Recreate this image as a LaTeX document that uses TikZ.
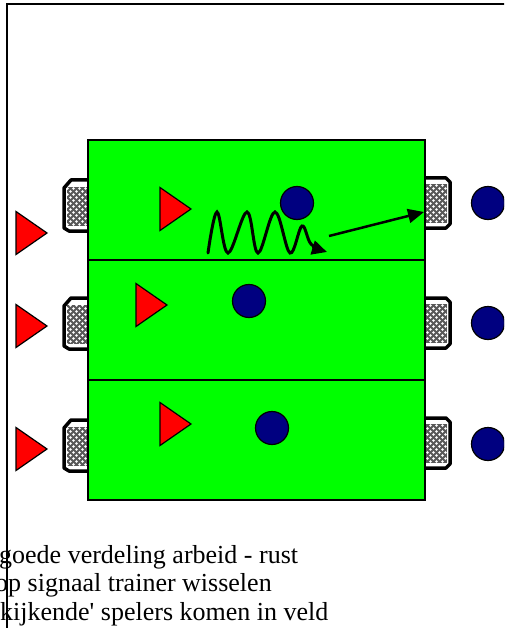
\documentclass[tikz,border=0pt]{standalone}
\usepackage{fontspec}
\setmainfont{Liberation Serif}
\usetikzlibrary{arrows.meta}
\usetikzlibrary{patterns}
\usetikzlibrary{positioning}

\definecolor{navy}{RGB}{0,0,128}

\pgfdeclarepatternformonly{netje}{\pgfqpoint{-1pt}{-1pt}}{\pgfqpoint{7pt}{7pt}}{\pgfqpoint{6pt}{6pt}}{%
    \pgfpathcircle{\pgfqpoint{1.5pt}{1.5pt}}{1.4pt}%
    \pgfpathcircle{\pgfqpoint{4.5pt}{4.5pt}}{1.4pt}%
    \pgfusepath{fill}}

\tikzset{
    ball/.style={circle,draw=black,fill=navy,minimum size=33pt,inner sep=0pt,line width=1.2pt},
    player/.style={draw=black,fill=red,line width=1.2pt,line join=miter},
    goalnet/.style={fill=black!65,postaction={pattern=netje,pattern color=white}},
    goalframe/.style={line width=3.5pt,line join=round},
    veld/.style={draw=black,fill=green,line width=1.2pt},
    uitleg/.style={anchor=base west,inner sep=0pt,font=\fontsize{26}{30}\selectfont},
}

\newcommand{\speler}[2]{\draw[player] (#1,#2-21.5) -- ++(31,21.5) -- ++(-31,21.5) -- cycle;}

\begin{document}
\begin{tikzpicture}[x=1pt,y=-1pt]
    \useasboundingbox (0,0) rectangle (504,628);
    \clip (0,0) rectangle (504,628);

    % kader
    \draw[line width=2.5pt] (7,640) -- (7,4) -- (520,4);

    % doeltjes links en rechts
    \foreach \gl/\gr in {205/203, 323/323, 445/443}{
        \fill[goalnet] (67,\gl-18) rectangle (89,\gl+21);
        \draw[goalframe] (89,\gl-25) -- (71,\gl-25) -- (64,\gl-17) -- (64,\gl+23) -- (69,\gl+26) -- (89,\gl+26);
        \fill[goalnet] (425,\gr-19) rectangle (447,\gr+20);
        \draw[goalframe] (425,\gr-25) -- (446,\gr-25) -- (450,\gr-21) -- (450,\gr+21) -- (446,\gr+25) -- (425,\gr+25);
    }

    % veld met drie vakken
    \draw[veld] (88,140) rectangle (425,500);
    \draw[line width=1.2pt] (88,260) -- (425,260);
    \draw[line width=1.2pt] (88,380) -- (425,380);

    % spelers
    \foreach \ty in {233, 326, 449}{
        \speler{16}{\ty}
    }
    \speler{160}{209}
    \speler{136}{305}
    \speler{160}{424}

    \node[ball] (bal1) at (297,203) {};
    \node[ball] (bal2) at (249,301) {};
    \node[ball] (bal3) at (272,428) {};
    \foreach \ry [count=\i] in {203, 323, 444}{
        \node[ball] (wissel\i) at (488,\ry) {};
    }

    % dribbel en schot
    \coordinate (golf begin) at (208,253);
    \coordinate (golf eind) at (327,252);
    \coordinate (schot) at (329,236);
    \coordinate (doel1) at (424,212);
    \draw[line width=3pt,line cap=round,-{Triangle[length=15pt,width=14pt]}]
        plot[smooth,tension=0.6] coordinates {(golf begin) (217,212) (228,253) (247,212) (258,253) (275,212) (290,253) (302,226) (311,244) (golf eind)};
    \draw[line width=2.5pt,-{Triangle[length=16pt,width=14pt]}] (schot) -- (doel1);

    % uitleg
    \node[uitleg] (regel1) at (-1,563) {goede verdeling arbeid - rust};
    \node[uitleg] (regel2) at (-5,591) {op signaal trainer wisselen};
    \node[uitleg] (regel3) at (0,620) {kijkende\textquotesingle{} spelers komen in veld};
\end{tikzpicture}
\end{document}
